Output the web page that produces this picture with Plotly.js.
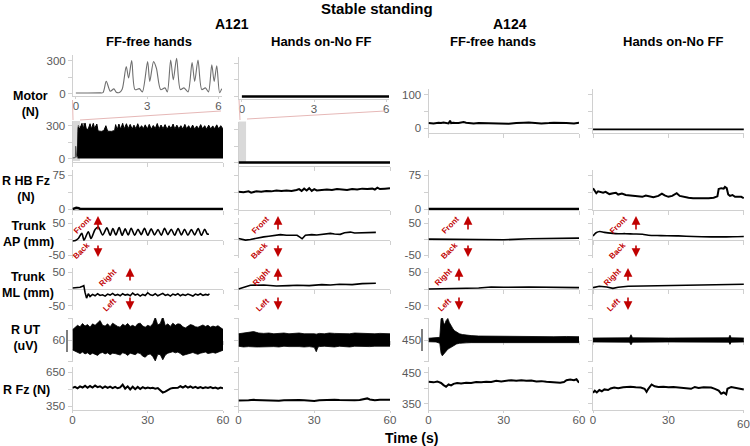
<!DOCTYPE html>
<html><head><meta charset="utf-8">
<script src="https://cdn.plot.ly/plotly-3.0.1.min.js"></script>
<style>html,body{margin:0;padding:0;background:#fff;overflow:hidden}#chart{width:750px;height:446px}</style>
</head><body><div id="chart"></div>
<script>
// ---------------- DATA ----------------
// Motor force, zoomed 0-6 s (A121 FF-free hands)
const motorZoomT=[0,0.5,1.0,1.14,1.28,1.45,1.6,1.7,1.83,1.95,2.12,2.22,2.35,2.49,2.67,2.8,3.02,3.11,3.27,3.39,3.57,3.75,3.85,3.99,4.1,4.24,4.4,4.55,4.72,4.89,5.0,5.14,5.3,5.45,5.58,5.72,5.82,5.93,6.05,6.14];
const motorZoomV=[5,5,6,8,112,21,43,12,10,40,248,143,303,36,45,15,294,112,294,233,36,52,15,309,127,324,36,52,15,285,112,309,36,52,15,264,112,255,8,45];
const motorZoom2T=[0,6.12], motorZoom2V=[0,0];
// Motor force 0-60 s, upper envelope (A121 FF-free hands)
const motorFullT=[2.0,2.3,3.0,3.7,4.2,5.0,5.5,6.2,7.0,7.5,8.3,8.8,9.7,10.2,11.5,12.5,13.3,14.0,15.5,16.8,17.2,17.8,18.5,19.2,20.0,20.6,21.5,22.2,23.0,23.8,24.5,25.3,26.0,26.8,27.5,28.3,29.0,29.8,30.6,31.4,32.2,33.0,33.8,34.5,35.3,36.1,36.9,37.7,38.5,39.3,40.1,40.8,41.6,42.4,43.2,44.0,44.8,45.5,46.3,47.1,47.9,48.7,49.5,50.3,51.1,51.9,52.7,53.5,54.3,55.1,55.9,56.7,57.5,58.3,59.1,59.8,60.0];
const motorFullV=[20,285,270,320,268,325,272,265,318,270,322,275,315,252,248,255,300,250,248,256,310,262,315,268,322,270,318,272,312,268,305,272,318,270,300,275,308,270,312,268,302,274,320,270,306,272,310,268,300,274,315,270,305,272,300,268,312,272,300,270,306,268,298,272,310,270,300,268,305,270,298,272,308,270,300,275,270];
const motorFull2T=[0,60], motorFull2V=[0,0];
const motor3T=[0,2,4,5,6,7,8,8.6,9,10,10.5,12,13,14,15,18,20,25,28,30,32,35,37,38,40,42,45,48,50,55,58,60];
const motor3V=[15,14,16,15,17,15,14,22,15,16,15,15,17,18,16,14,15,14,15,14,13,15,17,16,17,15,14,15,16,15,14,16];
const motor4T=[0,5,10,15,20,25,30,35,40,45,50,55,60];
const motor4V=[-4,-5,-4,-4,-5,-4,-4,-5,-4,-4,-5,-4,-4];
// R HB Fz (N)
const hb1T=[0,0.8,1.5,2.5,3.2,5,60], hb1V=[0,2,3,2,0,0,0];
const hb2T=[0,2,4,5,7,9,11,13,15,17,19,21,23,24,25,26,27,28,29,30,31,33,35,37,39,41,43,45,47,49,51,53,54,55,56,58,60];
const hb2V=[38,37,39,36,39,38,40,39,41,40,41,40,42,44,40,45,41,46,40,44,41,42,43,42,44,43,42,44,43,45,44,45,43,47,44,45,46];
const hb3T=[0,60], hb3V=[0,0];
const hb4T=[0,0.6,1.3,2,3,4,5,6.5,8,9.1,10,11.5,13,15,17,19.6,21,22.5,24,26,27.4,28.5,30,31.5,33.3,34.5,36,38,39.8,42,44,46,48,49.5,50,51,52,52.5,53.2,53.8,54.5,55.5,56.5,58,59,60];
const hb4V=[46,40,35,39,37,36,38,33,35,36,32,34,31,30,29,27,30,28,26,29,34,30,27,29,35,29,27,25,24,24,23,24,25,28,44,46,45,49,46,32,29,31,27,26,27,24];
// Trunk AP (mm)
const ap1T=[0,1.2,2.3,3.7,4.6,6.3,7.4,9,10.3,12,13.7,15,16.1,17.3,18.6,19.8,21,22.2,23.4,24.8,26.1,27.4,28.7,30,31.4,32.7,34.1,35.4,36.7,38,39.4,40.7,42.1,43.4,44.7,46,47.4,48.7,50.1,51.4,52.7,53.7,54.4];
const ap1V=[-6,-4,2,18,-3,23,2,30,38,13,35,12,33,13,36,12,32,13,34,12,31,14,34,12,32,13,30,12,34,14,31,12,33,13,31,12,30,13,33,12,31,16,15];
const ap2T=[0,1.5,2.8,4.7,7,10,12,14,16.6,19,21,23.2,24.3,25.2,26.5,29,31,33.5,36.4,38,40.3,42,44.3,46,49.5,52,54.4];
const ap2V=[2,0,-3,-1,3,7,9,12,14,12,13,12,6,1,12,14,13,16,18,16,15,20,22,19,20,21,21];
const ap3T=[0,10,20,30,40,50,60], ap3V=[0,-1,-1,-2,1,3,3];
const ap4T=[0,1.2,2.7,4.5,7.9,10,13,16,19.7,22,27,34,40,47,53,60];
const ap4V=[10,20,24,21,18,17,17,16,15,12,11,10,8,7,7,8];
// Trunk ML (mm)
const ml1T=[0,1,2,3,4,4.5,5,5.6,6.3,7,8,9,10,11,12,13,14,15,16,17,18,19,20,21,22,23,24,25,26,27,28,29,30,31,32,33,34,35,36,37,38,39,40,41,42,43,44,45,46,47,48,49,50,51,52,53,54,54.6];
const ml1V=[3,4,3,5,8,10,-10,-27,-14,-22,-16,-20,-14,-19,-17,-21,-15,-18,-13,-19,-16,-20,-14,-18,-16,-20,-12,-18,-15,-21,-16,-19,-11,-17,-19,-14,-20,-17,-13,-19,-16,-21,-15,-18,-14,-20,-16,-19,-15,-18,-21,-15,-18,-14,-19,-16,-18,-14];
const ml2T=[0,2,4.7,10,15,20,23.2,28,33,36.4,40,45,49,54.4], ml2V=[0,5,11,12,9,10,11,10,13,12,14,13,16,17];
const ml3T=[0,10,20,25,30,40,50,60], ml3V=[0,1,3,6,5,6,5,4];
const ml4T=[0,2.5,5.5,7.9,10,14,20,27,34,40,47,53,60], ml4V=[4,8,6,2,5,8,9,10,12,12,13,13,14];
// R UT EMG envelopes (upper / lower)
const ut1T=[0,1,2,3,4,5,6,7,8,9,10,11,12,13,14,15,16,17,18,19,20,21,22,23,24,25,26,27,28,29,30,31,32,33,34,35,36,37,38,39,40,41,42,43,44,45,46,47,48,49,50,51,52,53,54,55,56,57,58,59,60];
const ut1Up=[88,94,100,96,105,98,102,95,104,100,107,113,100,98,104,96,106,101,97,95,103,99,105,97,100,96,104,106,98,95,100,97,104,122,101,105,124,99,104,97,106,100,104,103,96,93,98,102,100,96,95,99,101,97,100,95,98,96,99,94,89];
const ut1Lo=[33,29,25,23,27,22,25,20,24,21,18,24,26,22,25,20,24,23,21,19,25,23,18,24,22,20,25,23,16,13,20,22,15,3,21,20,6,19,24,26,28,25,27,23,18,20,22,24,26,23,21,24,25,27,23,25,26,24,27,29,32];
const ut2T=[0,2,4,6,7,8,10,12,14,16,18,20,22,24,26,28,30,30.8,31.5,32,34,36,38,40,42,44,46,48,50,52,54,56,58,60];
const ut2Up=[77,79,80,83,81,79,78,79,77,78,79,77,78,79,77,78,77,76,77,78,77,79,78,77,78,77,79,78,77,78,77,78,77,77];
const ut2Lo=[43,41,42,40,41,41,42,43,42,41,43,42,43,42,41,42,40,28,41,42,43,42,41,43,42,41,43,42,43,42,43,42,43,43];
const ut3T=[0,3,4.5,5.0,5.5,6.0,6.4,7.0,7.7,8.3,9.1,9.8,10.4,11.2,12.4,13.5,15,17,20,25,30,35,40,45,50,55,60];
const ut3Up=[458,459,462,545,555,528,520,538,548,530,512,500,492,485,478,475,472,470,468,467,467,466,466,465,465,466,465];
const ut3Lo=[442,441,435,390,378,385,392,400,408,412,418,422,426,432,435,437,437,438,438,439,438,439,438,439,438,439,438];
const ut4T=[0,14.5,15.1,15.7,30,54,54.5,55,60];
const ut4Up=[459,460,474,460,459,460,472,460,459];
const ut4Lo=[441,440,428,440,441,440,430,440,441];
// R Fz (N)
const fz1T=[0,1,2,3,4,5,6,7,8,9,10,11,12,13,14,15,16,17,18,19,20,21,22,23,24,25,26,27,28,29,30,31,32,33,34,35,36,37,38,39,40,41,42,43,44,45,46,47,48,49,50,51,52,53,54,55,56,57,58,59,60];
const fz1V=[512,520,508,525,515,530,512,528,515,532,518,526,510,524,512,522,510,520,508,515,540,505,525,498,522,500,520,502,518,506,515,508,512,505,510,490,470,478,495,505,510,508,512,526,515,528,514,524,512,520,510,518,508,516,510,518,508,515,505,514,508];
const fz2T=[0,2,4,6,8,10,12,14,16,18,20,22,24,26,28,30,32,34,36,38,40,42,44,46,48,50,51,52,54,56,58,60];
const fz2V=[400,404,402,405,403,401,404,402,398,401,403,400,404,401,399,395,401,404,402,405,403,401,404,402,403,412,418,408,402,405,403,406];
const fz3T=[0,2,3.5,5,6,7,8,9,10,11.4,13,15,17,19,21,23,25,27,29,31,33,35,37,39,41,43,45,47,49,51,52.5,54,55,56.5,58,59,60];
const fz3V=[421,419,422,417,410,405,412,409,414,417,415,418,417,420,419,421,420,424,422,425,426,424,426,424,425,422,423,421,420,418,418,420,426,428,426,429,418];
const fz4T=[0,0.7,1.5,2.5,3.5,4.5,6,7,8.4,10,12,14.9,17,19,20.5,21.3,22,23.3,24.5,26,28,30,32,34,36,38,39,40.5,42,44,46,47,48.5,50,51,52,53,53.5,55,57,58.5,60];
const fz4V=[385,392,386,394,390,396,394,399,402,400,403,405,403,402,398,388,398,412,406,404,405,403,404,402,400,397,398,404,401,403,401,402,398,392,382,386,380,398,404,400,398,396];
// Tick labels
const timeTicks=[0,30,60], zoomTicks=[0,3,6];
const colTitles=['FF-free hands','Hands on-No FF','FF-free hands','Hands on-No FF'];
const subjects=['A121','A124'];
const rowLabels=['Motor<br>(N)','R HB Fz<br>(N)','Trunk<br>AP (mm)','Trunk<br>ML (mm)','R UT<br>(uV)','R Fz (N)'];

// ---------------- LAYOUT HELPERS ----------------
const W=750,H=446;
const fx=p=>p/W, fy=p=>1-p/H;
const FONT='Liberation Sans, Arial, sans-serif';
const LC='#d0d0d0', TC='#595959', RED='#c00000';
const layout={width:W,height:H,margin:{l:0,r:0,t:0,b:0},paper_bgcolor:'#fff',plot_bgcolor:'rgba(0,0,0,0)',
  showlegend:false,font:{family:FONT,color:'#000'},shapes:[],annotations:[]};
const traces=[];
let n=0;
function panel(o){
  n++;
  const xk=n===1?'xaxis':'xaxis'+n, yk=n===1?'yaxis':'yaxis'+n;
  const xr=n===1?'x':'x'+n, yr=n===1?'y':'y'+n;
  const xa={domain:[fx(o.x0),fx(o.x1)],range:o.xr,showline:o.noline?false:true,linecolor:LC,linewidth:1,layer:'below traces',
    ticks:'outside',ticklen:o.xlab?2:4,tickcolor:LC,tickvals:o.xt,ticklabelstandoff:o.xlab?-3:0,ticklabeloverflow:'allow',
    ticktext:o.xlab?o.xt.map(String):o.xt.map(()=>''),showgrid:false,zeroline:false,
    tickfont:{family:FONT,size:11.5,color:TC},fixedrange:true};
  if(o.lastBlank) xa.ticktext=o.xt.map((v,k)=>k===o.xt.length-1?'':String(v));
  if(o.xpos!=null){xa.anchor='free';xa.position=fy(o.xpos);} else xa.anchor=yr;
  layout[xk]=xa;
  layout[yk]={domain:[fy(o.y1),fy(o.y0)],range:o.yr,anchor:xr,showline:true,linecolor:LC,linewidth:1,layer:'below traces',
    ticks:'outside',ticklen:4,tickcolor:LC,tickvals:o.yt,
    ticktext:o.ylab?o.ytt:o.yt.map(()=>''),showgrid:false,zeroline:false,
    tickfont:{family:FONT,size:11.5,color:TC},fixedrange:true};
  return {xaxis:xr,yaxis:yr};
}
function line(a,t,v,w,c,spline){traces.push(Object.assign({type:'scatter',mode:'lines',x:t,y:v,
  line:{color:c||'#000',width:w||1.5,shape:spline?'spline':'linear',smoothing:0.8},hoverinfo:'skip'},a));}
function band(a,t,up,lo){
  traces.push(Object.assign({type:'scatter',mode:'lines',x:t,y:lo,line:{color:'#000',width:0.8},hoverinfo:'skip'},a));
  traces.push(Object.assign({type:'scatter',mode:'lines',x:t,y:up,fill:'tonexty',fillcolor:'#000',line:{color:'#000',width:0.8},hoverinfo:'skip'},a));
}

const C=[[72.5,223],[238.5,390],[428.5,579],[593,744]];
const T60=[0,60], T60b=[-0.02,60.08];
// Row 1: zoom
const z1=panel({x0:73,x1:222,xr:[-0.12,6.15],xt:zoomTicks,xlab:true,y0:55,y1:96,yr:[-23,355],yt:[0,150,300],ylab:true,ytt:['0','','300']});
line(z1,motorZoomT,motorZoomV,1.1,'#6f6f6f',true);
const z2=panel({x0:239,x1:389,xr:[-0.12,6.12],xt:zoomTicks,xlab:true,y0:57,y1:99,yr:[-23,355],yt:[0,150,300]});
line(z2,motorZoom2T,motorZoom2V,2.5);
// Row 2: motor full
const f1=panel({x0:C[0][0],x1:C[0][1],xr:T60,xt:timeTicks,y0:121,y1:162,yr:[-32,343],yt:[0,150,300],ylab:true,ytt:['0','','300']});
layout.shapes.push({type:'rect',xref:f1.xaxis,yref:'paper',x0:0,x1:3,y0:fy(161),y1:fy(121),fillcolor:'#d9d9d9',line:{width:0},layer:'below'});
line(f1,motorZoomT,motorZoomV,1,'#555',false);
traces.push(Object.assign({type:'scatter',mode:'lines',x:motorFullT,y:motorFullV,fill:'tozeroy',fillcolor:'#000',line:{color:'#000',width:1},hoverinfo:'skip'},f1));
const f2=panel({x0:C[1][0],x1:C[1][1],xr:T60,xt:timeTicks,y0:122,y1:166,yr:[-32,370],yt:[0,150,300]});
layout.shapes.push({type:'rect',xref:f2.xaxis,yref:'paper',x0:0,x1:3,y0:fy(162),y1:fy(121.5),fillcolor:'#d9d9d9',line:{width:0},layer:'below'});
line(f2,motorFull2T,motorFull2V,2.5);
// Motor col3/col4
const m3=panel({x0:C[2][0],x1:C[2][1],xr:T60,xt:timeTicks,y0:89,y1:133,yr:[-15,118],yt:[0,50,100],ylab:true,ytt:['0','','100']});
line(m3,motor3T,motor3V,2);
const m4=panel({x0:C[3][0],x1:C[3][1],xr:T60b,xt:timeTicks,y0:89,y1:133,yr:[-15,118],yt:[0,50,100]});
line(m4,motor4T,motor4V,1.8);
// Row 3: HB Fz
const hbD=[[hb1T,hb1V,2.5],[hb2T,hb2V,2],[hb3T,hb3V,2.5],[hb4T,hb4V,2]];
hbD.forEach((d,i)=>{const p=panel({x0:C[i][0],x1:C[i][1],xr:i===3?T60b:T60,xt:timeTicks,y0:170,y1:210,yr:[-2,86],yt:[0,37.5,75],ylab:i%2===0,ytt:['0','','75']});line(p,d[0],d[1],d[2]);});
// Row 4: AP
const apD=[[ap1T,ap1V,true],[ap2T,ap2V,false],[ap3T,ap3V,false],[ap4T,ap4V,true]];
apD.forEach((d,i)=>{const p=panel({x0:C[i][0],x1:C[i][1],xr:i===3?T60b:T60,xt:timeTicks,xpos:239.5,y0:218,y1:258,yr:[-59,66],yt:[-50,0,50],ylab:i%2===0,ytt:['-50','','50']});line(p,d[0],d[1],1.6,'#000',d[2]);});
// Row 5: ML
const mlD=[[ml1T,ml1V],[ml2T,ml2V],[ml3T,ml3V],[ml4T,ml4V]];
mlD.forEach((d,i)=>{const p=panel({x0:C[i][0],x1:C[i][1],xr:i===3?T60b:T60,xt:timeTicks,xpos:289,y0:268,y1:310,yr:[-62,62],yt:[-50,0,50],ylab:i%2===0,ytt:['-50','','50']});line(p,d[0],d[1],1.6);});
// Row 6: R UT
const utD=[[ut1T,ut1Up,ut1Lo,[0,120],[1,60,119],['','60','']],[ut2T,ut2Up,ut2Lo,[0,120],[1,60,119],null],
           [ut3T,ut3Up,ut3Lo,[350,550],[352,450,548],['','450','']],[ut4T,ut4Up,ut4Lo,[350,550],[352,450,548],null]];
utD.forEach((d,i)=>{const p=panel({x0:C[i][0],x1:C[i][1],xr:i===3?T60b:T60,xt:timeTicks,xpos:340,noline:true,y0:318,y1:362,yr:d[3],yt:d[4],ylab:!!d[5],ytt:d[5]});band(p,d[0],d[1],d[2]);});
// Row 7: R Fz
const fzD=[[fz1T,fz1V,[315,697],[350,500,650],['350','','650']],[fz2T,fz2V,[315,697],[350,500,650],null],
           [fz3T,fz3V,[329,469],[350,400,450],['350','','450']],[fz4T,fz4V,[329,469],[350,400,450],null]];
let lastFz=null;
fzD.forEach((d,i)=>{const p=panel({x0:C[i][0],x1:C[i][1],xr:i===3?T60b:T60,xt:timeTicks,xlab:true,lastBlank:i===3,y0:367,y1:410,yr:d[2],yt:d[3],ylab:!!d[4],ytt:d[4]});line(p,d[0],d[1],2);if(i===3)lastFz=p;});
// last time label of the right-most panel, placed on that panel's own x scale
layout.annotations.push({xref:lastFz.xaxis,yref:'paper',x:timeTicks[timeTicks.length-1],y:fy(424),text:String(timeTicks[timeTicks.length-1]),
  showarrow:false,xanchor:'center',yanchor:'middle',font:{family:FONT,size:11.5,color:TC}});

// ---------------- DECORATION ----------------
const pl=(x0,y0,x1,y1,c,w)=>layout.shapes.push({type:'line',xref:'paper',yref:'paper',x0:fx(x0),y0:fy(y0),x1:fx(x1),y1:fy(y1),line:{color:c,width:w}});
pl(73,120,72.5,100,'#e6b8b7',1); pl(80,120,221,111,'#e6b8b7',1);
pl(240,120,239,100,'#e6b8b7',1); pl(247,119,385,111,'#e6b8b7',1);
pl(67,330,67,352,'#555',1.5); pl(422,329,422,351,'#555',1.5);

const ann=(x,y,t,s,opt)=>layout.annotations.push(Object.assign({xref:'paper',yref:'paper',x:fx(x),y:fy(y),text:t,showarrow:false,
  xanchor:'center',yanchor:'middle',font:{family:FONT,size:s,color:'#000'}},opt||{}));
ann(377,9,'<b>Stable standing</b>',15);
ann(232,24,'<b>'+subjects[0]+'</b>',14); ann(510,24,'<b>'+subjects[1]+'</b>',14);
[149,321,493,673].forEach((x,i)=>ann(x,41,'<b>'+colTitles[i]+'</b>',13));
[[30,104],[26,189],[28,234],[28,284.5],[26,338],[26,390]].forEach((p,i)=>ann(p[0],p[1],'<b>'+rowLabels[i]+'</b>',12.5));
ann(411,438,'<b>Time (s)</b>',14);

const arrow=(x,h,t)=>layout.annotations.push({xref:'paper',yref:'paper',x:fx(x),y:fy(h),ax:0,ay:t-h,showarrow:true,
  arrowhead:2,arrowsize:1.1,arrowwidth:1.6,arrowcolor:RED,text:''});
const rtxt=(x,y,t)=>ann(x,y,'<b>'+t+'</b>',8,{textangle:-45,font:{family:FONT,size:8,color:RED}});
const dirs=[[98,130,82,108],[278,278,260,261],[468,459,450,443],[636,628,618,612]];
dirs.forEach(d=>{
  arrow(d[0],216,231); arrow(d[0],257,244);
  arrow(d[1],268,282); arrow(d[1],310,296);
  rtxt(d[2],225,'Front'); rtxt(d[2],251,'Back');
  rtxt(d[3],277,'Right'); rtxt(d[3]+1,305,'Left');
});

Plotly.newPlot('chart',traces,layout,{staticPlot:true,displayModeBar:false});
</script></body></html>
